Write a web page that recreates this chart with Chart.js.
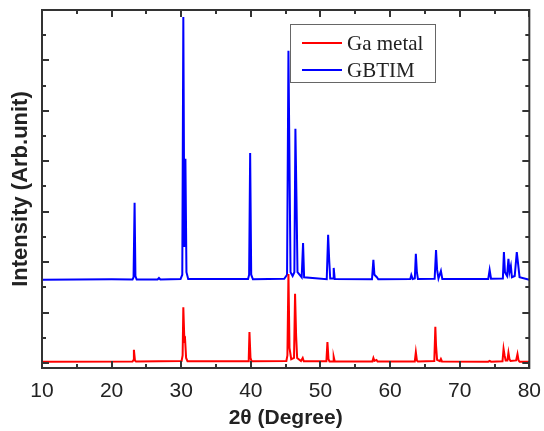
<!DOCTYPE html>
<html>
<head>
<meta charset="utf-8">
<script src="https://cdn.jsdelivr.net/npm/chart.js@4"></script>
<style>
  html, body { margin: 0; padding: 0; background: #fff; }
  #wrap { width: 544px; height: 431px; }
</style>
</head>
<body>
<div id="wrap"><canvas id="xrd" width="544" height="431"></canvas></div>
<script>
// 2theta positions and intensities (arb. units)
const gaAngle = [10, 23.0, 23.15, 23.2, 23.35, 23.5, 30.05, 30.2, 30.3, 30.45, 30.55, 30.7, 30.9,
  39.6, 39.7, 39.8, 39.95, 40.1, 45.1, 45.25, 45.4, 45.55, 45.8, 46.2, 46.35, 46.5, 46.65,
  47.2, 47.45, 47.6, 50.85, 51.0, 51.15, 51.3, 51.8, 51.9, 52.05, 57.45, 57.6, 57.75, 58.05, 58.2,
  63.55, 63.7, 63.85, 64.0, 66.35, 66.5, 66.6, 66.75, 67.15, 67.3, 67.45, 74.1, 74.3, 74.5,
  76.15, 76.3, 76.45, 76.6, 76.85, 77.0, 77.15, 77.3, 78.1, 78.3, 78.45, 78.6, 80];
const gaIntensity = [0.05, 0.06, 0.12, 0.52, 0.1, 0.06, 0.08, 0.3, 2.21, 0.9, 0.95, 0.2, 0.07,
  0.07, 0.2, 1.23, 0.2, 0.07, 0.08, 0.3, 3.53, 0.6, 0.15, 0.2, 2.74, 1.1, 0.2,
  0.08, 0.2, 0.07, 0.07, 0.83, 0.15, 0.06, 0.06, 0.24, 0.06, 0.06, 0.2, 0.08, 0.12, 0.06,
  0.06, 0.43, 0.1, 0.06, 0.08, 1.43, 0.7, 0.12, 0.07, 0.16, 0.06, 0.05, 0.08, 0.05,
  0.07, 0.56, 0.3, 0.1, 0.1, 0.41, 0.15, 0.08, 0.1, 0.35, 0.1, 0.05, 0.05];

const gbtimAngle = [10, 15, 20, 23.0, 23.15, 23.3, 23.42, 23.6, 26.6, 26.8, 27.0, 29.9, 30.15, 30.3,
  30.45, 30.6, 30.75, 31.0, 35, 39.6, 39.75, 39.9, 40.05, 40.3, 44.8, 45.2, 45.4, 45.55, 45.7,
  46.0, 46.25, 46.4, 46.55, 46.7, 47.3, 47.5, 47.65, 50.9, 51.1, 51.25, 51.4, 51.8, 51.9, 52.05,
  57.4, 57.6, 57.75, 58.1, 58.3, 62.9, 63.05, 63.25, 63.55, 63.7, 63.85, 64.0, 66.4, 66.6, 66.75,
  66.95, 67.3, 67.5, 74.1, 74.3, 74.5, 76.2, 76.35, 76.5, 76.8, 77.0, 77.15, 77.35, 77.5, 77.9,
  78.2, 78.4, 78.6, 80];
const gbtimIntensity = [3.3, 3.31, 3.32, 3.31, 3.4, 6.35, 3.45, 3.31, 3.31, 3.37, 3.31, 3.33, 3.5, 13.72,
  4.6, 8.1, 3.6, 3.33, 3.33, 3.33, 3.5, 8.33, 3.5, 3.32, 3.34, 3.5, 12.38, 7.9, 3.6,
  3.45, 3.6, 9.29, 6.6, 3.6, 3.4, 4.76, 3.4, 3.32, 5.08, 4.1, 3.35, 3.35, 3.77, 3.33,
  3.32, 4.09, 3.5, 3.4, 3.32, 3.33, 3.49, 3.33, 3.35, 4.33, 3.6, 3.33, 3.34, 4.48, 3.7,
  3.35, 3.65, 3.33, 3.33, 3.69, 3.34, 3.35, 4.4, 3.6, 3.45, 4.13, 3.6, 3.85, 3.4, 3.45,
  4.4, 3.9, 3.4, 3.3];

const xTicks = [10, 20, 30, 40, 50, 60, 70, 80];
const seriesNames = ['Ga metal', 'GBTIM'];
const seriesColors = ['#ff0000', '#0000ff'];

const toPoints = (xs, ys) => xs.map((x, i) => ({ x: x, y: ys[i] }));

// frame, inward ticks and the boxed legend
const framePlugin = {
  id: 'frame',
  afterDraw(chart) {
    const { ctx, chartArea: a, scales: { x, y } } = chart;
    ctx.save();
    ctx.strokeStyle = '#333';
    ctx.lineWidth = 2;
    ctx.strokeRect(a.left, a.top, a.right - a.left, a.bottom - a.top);

    ctx.beginPath();
    for (let v = 10; v <= 80; v += 5) {
      const px = Math.round(x.getPixelForValue(v));
      const len = v % 10 === 0 ? 7 : 4;
      ctx.moveTo(px, a.bottom); ctx.lineTo(px, a.bottom - len);
      ctx.moveTo(px, a.top); ctx.lineTo(px, a.top + len);
    }
    for (let v = 0; v <= 14; v += 1) {
      const py = Math.round(y.getPixelForValue(v));
      const len = v % 2 === 0 ? 7 : 4;
      ctx.moveTo(a.left, py); ctx.lineTo(a.left + len, py);
      ctx.moveTo(a.right, py); ctx.lineTo(a.right - len, py);
    }
    ctx.stroke();

    // legend
    const lx = 290, ly = 24, lw = 145, lh = 58;
    ctx.fillStyle = '#fff';
    ctx.fillRect(lx, ly, lw, lh);
    ctx.strokeStyle = '#666';
    ctx.lineWidth = 1;
    ctx.strokeRect(lx + 0.5, ly + 0.5, lw, lh);
    ctx.font = '21px "Liberation Serif", "Times New Roman", serif';
    ctx.textBaseline = 'middle';
    seriesNames.forEach((name, i) => {
      const yy = ly + 19 + i * 27;
      ctx.strokeStyle = seriesColors[i];
      ctx.lineWidth = 2;
      ctx.beginPath(); ctx.moveTo(lx + 12, yy); ctx.lineTo(lx + 52, yy); ctx.stroke();
      ctx.fillStyle = '#222';
      ctx.fillText(name, lx + 57, yy + 1);
    });
    ctx.restore();
  }
};

new Chart(document.getElementById('xrd'), {
  type: 'line',
  data: {
    datasets: [
      { label: seriesNames[0], data: toPoints(gaAngle, gaIntensity), borderColor: seriesColors[0],
        borderWidth: 2, pointRadius: 0, tension: 0, fill: false },
      { label: seriesNames[1], data: toPoints(gbtimAngle, gbtimIntensity), borderColor: seriesColors[1],
        borderWidth: 2, pointRadius: 0, tension: 0, fill: false }
    ]
  },
  options: {
    responsive: false,
    animation: false,
    layout: { padding: { top: 10, right: 14, left: 0, bottom: 0 } },
    plugins: { legend: { display: false }, tooltip: { enabled: false } },
    scales: {
      x: {
        type: 'linear', min: 10, max: 80,
        grid: { display: false }, border: { display: false },
        afterBuildTicks: (s) => { s.ticks = xTicks.map(v => ({ value: v })); },
        afterFit: (s) => { s.height = 63; },
        ticks: { color: '#222', padding: 3, maxRotation: 0,
          font: { family: '"Liberation Sans", Arial, sans-serif', size: 21 } },
        title: { display: true, text: '2θ (Degree)', color: '#222', padding: { top: 0, bottom: 0 },
          font: { family: '"Liberation Sans", Arial, sans-serif', size: 21, weight: 'bold' } }
      },
      y: {
        min: -0.2, max: 14,
        grid: { display: false }, border: { display: false },
        ticks: { display: false },
        afterFit: (s) => { s.width = 42; },
        title: { display: true, text: 'Intensity (Arb.unit)', color: '#222', padding: { top: 8, bottom: 0 },
          font: { family: '"Liberation Sans", Arial, sans-serif', size: 22, weight: 'bold' } }
      }
    }
  },
  plugins: [framePlugin]
});
</script>
</body>
</html>
